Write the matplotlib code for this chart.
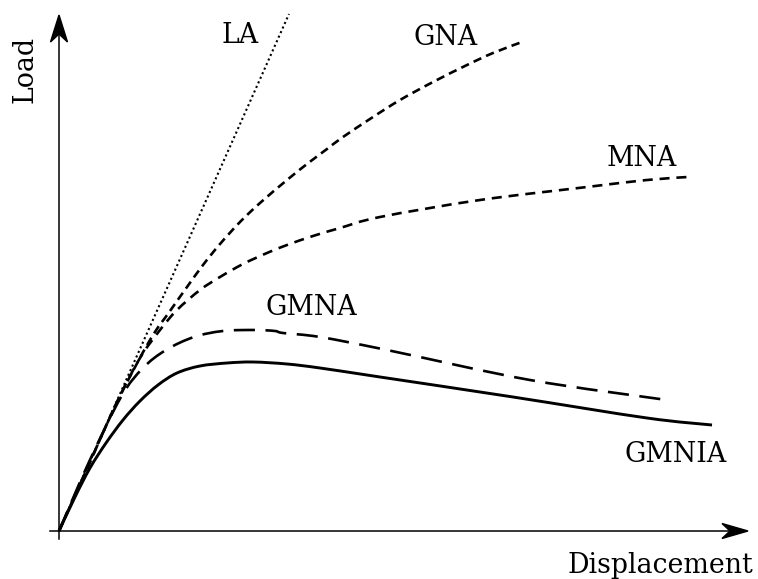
import numpy as np
import matplotlib.pyplot as plt
from matplotlib.patches import Polygon, PathPatch
from matplotlib.path import Path

# Load-displacement paths for the different analysis types (arbitrary units)
la_x = [0, 230]
la_y = [0, 517]

gna_x = [0, 31, 59, 91, 111, 128, 144, 161, 181, 201, 228, 248, 268, 284, 314, 341, 374, 408, 434, 463]
gna_y = [0, 69, 131, 191, 220, 244, 266, 287, 309, 328, 351, 367, 382, 394, 414, 431, 449, 466, 478, 489]

mna_x = [0, 31, 59, 81, 101, 118, 141, 161, 184, 208, 228, 254, 281, 321, 421, 528, 588, 629]
mna_y = [0, 69, 131, 173, 201, 221, 241, 254, 267, 278, 286, 295, 303, 314, 331, 344, 351, 354]

gmna_x = [0, 30, 62, 84, 107, 135, 164, 196, 216, 224, 261, 328, 471, 608]
gmna_y = [0, 69, 134, 163, 181, 194, 200, 201, 200, 198, 194, 181, 151, 131]

gmnia_x = [0, 16, 31, 47, 64, 81, 99, 118, 141, 168, 194, 228, 261, 321, 454, 588, 653]
gmnia_y = [0, 34, 63, 88, 111, 130, 146, 158, 165, 168, 169, 167, 163, 154, 134, 113, 106]


def smooth_path(xs, ys):
    # Catmull-Rom through the points, written as cubic Bezier segments
    p = np.column_stack([xs, ys]).astype(float)
    ext = np.vstack([p[0], p, p[-1]])
    verts = [p[0]]
    codes = [Path.MOVETO]
    for i in range(1, len(ext) - 2):
        p0, p1, p2, p3 = ext[i - 1], ext[i], ext[i + 1], ext[i + 2]
        verts += [p1 + (p2 - p0) / 6, p2 - (p3 - p1) / 6, p2]
        codes += [Path.CURVE4] * 3
    return Path(verts, codes)


def draw_curve(ax, xs, ys, **kw):
    ax.add_patch(PathPatch(smooth_path(xs, ys), fill=False, edgecolor='black',
                           clip_on=False, **kw))


fig = plt.figure(figsize=(7.58, 5.79), dpi=100)
ax = fig.add_axes([59/758, 48/579, 689/758, 516/579])
ax.set_xlim(0, 689)
ax.set_ylim(0, 516)
ax.axis('off')

ax.plot(la_x, la_y, color='black', lw=1.5, linestyle=(0, (1, 1.4)), clip_on=False)
draw_curve(ax, gna_x, gna_y, lw=1.9, linestyle=(0, (3.2, 2.0)))
draw_curve(ax, mna_x, mna_y, lw=1.9, linestyle=(0, (3.8, 2.6)))
draw_curve(ax, gmna_x, gmna_y, lw=1.9, linestyle=(0, (8, 4)))
draw_curve(ax, gmnia_x, gmnia_y, lw=2.1)

# axes with stealth arrow heads
ax.plot([0, 0], [-8, 500], color='black', lw=1.1, clip_on=False)
ax.plot([-9, 675], [0, 0], color='black', lw=1.1, clip_on=False)
ax.add_patch(Polygon([(0, 516), (-8.5, 489), (0, 497), (8.5, 489)],
                     closed=True, color='black', clip_on=False))
ax.add_patch(Polygon([(689, 0), (663, -7.5), (671, 0), (663, 7.5)],
                     closed=True, color='black', clip_on=False))

font = dict(family='DejaVu Serif', fontsize=19.3, color='black')
ax.text(181, 488, 'LA', ha='center', va='baseline', **font)
ax.text(387, 486, 'GNA', ha='center', va='baseline', **font)
ax.text(583, 365, 'MNA', ha='center', va='baseline', **font)
ax.text(252, 216, 'GMNA', ha='center', va='baseline', **font)
ax.text(617, 69, 'GMNIA', ha='center', va='baseline', **font)
ax.text(601, -42, 'Displacement', ha='center', va='baseline', **font)
ax.text(-34, 462, 'Load', ha='center', va='center', rotation=90, **font)

fig.savefig('out.png', dpi=100)
